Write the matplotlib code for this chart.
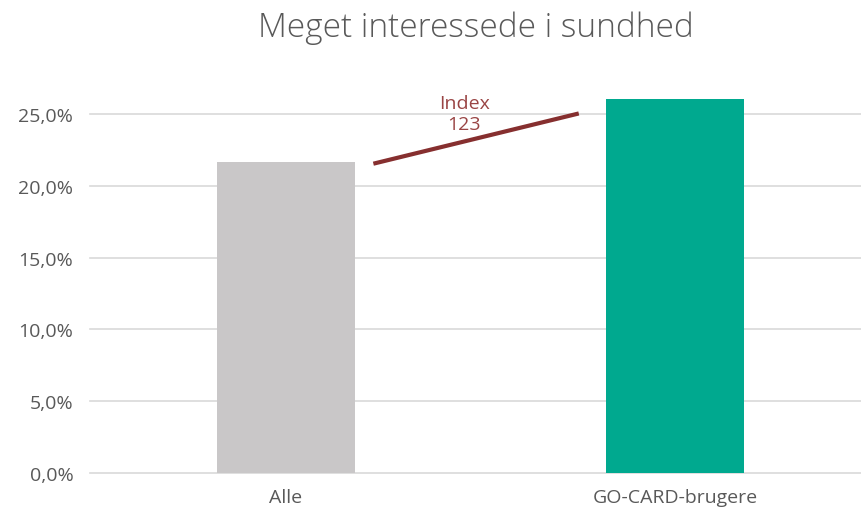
import numpy as np
import matplotlib.pyplot as plt
from matplotlib.ticker import FuncFormatter

plt.rcParams['font.family'] = ['Open Sans', 'DejaVu Sans']

categories = ['Alle', 'GO-CARD-brugere']
values = [21.7, 26.05]
bar_colors = ['#c9c7c8', '#00a98f']
index_label = 'Index\n123'
title = 'Meget interessede i sundhed'

fig = plt.figure(figsize=(8.61, 5.10), dpi=100)
ax = fig.add_axes([0.1045, 0.0706, 0.8955, 0.788])

x = np.arange(len(categories))
w = 0.355
ax.bar(x, values, width=w, color=bar_colors, zorder=3)

# index line between bars
x0, x1 = x[0] + w / 2 + 0.047, x[1] - w / 2 - 0.07
y0, y1 = values[0] - 0.15, values[1] - 1.0
ax.plot([x0, x1], [y0, y1], color='#862f2f', lw=3, solid_capstyle='butt', zorder=4)
ax.text((x0 + x1) / 2 - 0.03, 25.05, index_label, ha='center', va='center',
        color='#9a4545', fontsize=14, linespacing=1.15, zorder=5)

ax.set_xlim(-0.504, 1.478)
ax.set_ylim(0, 28)
ax.set_yticks(np.arange(0, 26, 5))
ax.yaxis.set_major_formatter(FuncFormatter(lambda v, p: f'{v:.1f}%'.replace('.', ',')))
ax.set_xticks(x)
ax.set_xticklabels(categories)
ax.grid(axis='y', color='#d9d9d9', lw=1.2, zorder=0)
for gl in ax.get_ygridlines():
    gl.set_clip_on(False)
for s in ax.spines.values():
    s.set_visible(False)
ax.tick_params(axis='both', length=0, labelsize=14, colors='#595959')
ax.tick_params(axis='y', pad=12)
ax.tick_params(axis='x', pad=11)
ax.set_title(title, fontsize=24, color='#595959', fontweight='light', pad=25)

fig.savefig('out.png', dpi=100)
